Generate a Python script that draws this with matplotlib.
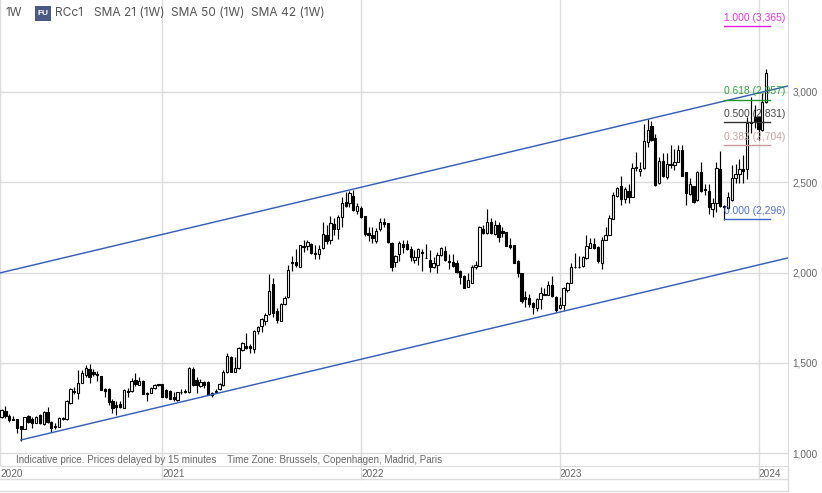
import matplotlib
matplotlib.use("Agg")
import matplotlib.pyplot as plt
import matplotlib.dates as mdates
from matplotlib.lines import Line2D
from matplotlib.patches import Rectangle
import pandas as pd

plt.rcParams['font.family'] = ['Liberation Sans', 'DejaVu Sans']

first_week = "2020-03-16"
opens = [1202,1234,1206,1188,1191,1149,1136,1206,1191,1169,1212,1162,1228,1173,1151,1147,1191,1188,1276,1346,
 1335,1391,1435,1466,1448,1439,1428,1356,1356,1291,1265,1271,1252,1345,1346,1405,1380,1402,1335,1335,
 1359,1381,1381,1350,1345,1309,1295,1337,1339,1337,1465,1405,1374,1394,1394,1322,1341,1356,1378,1448,
 1535,1452,1470,1572,1595,1594,1575,1678,1704,1734,1769,1935,1787,1734,1824,1863,2055,2057,2033,2144,
 2149,2158,2105,2105,2136,2206,2180,2269,2243,2310,2389,2387,2424,2343,2358,2313,2217,2206,2175,2239,
 2278,2274,2164,2057,2101,2160,2156,2130,2070,2084,2114,2082,2068,2029,2042,2099,2118,2060,2060,2051,
 2008,1983,1922,1944,2029,2038,2239,2217,2278,2211,2265,2228,2223,2150,2150,2066,1995,1862,1857,1829,
 1802,1851,1878,1875,1931,1866,1805,1822,1905,1942,2029,2029,2038,2079,2138,2156,2143,2051,2182,2210,
 2295,2426,2477,2405,2450,2420,2577,2562,2581,2721,2811,2743,2498,2618,2531,2597,2597,2614,2678,2555,
 2435,2479,2402,2555,2461,2451,2354,2387,2573,2365,2355,2401,2521,2545,2571,2571,2832,2859,2859,2789,2946]
highs = [1245,1261,1217,1206,1191,1149,1202,1210,1199,1204,1215,1236,1254,1177,1165,1202,1199,1295,1363,1369,
 1461,1461,1489,1494,1465,1457,1430,1363,1359,1302,1287,1291,1357,1359,1415,1442,1424,1404,1341,1365,
 1384,1385,1383,1354,1348,1341,1341,1354,1354,1479,1476,1420,1409,1398,1398,1341,1357,1391,1461,1553,
 1538,1531,1590,1618,1663,1605,1683,1706,1747,1774,1992,1972,1802,1830,1872,2042,2092,2130,2155,2180,
 2180,2166,2153,2153,2282,2263,2313,2300,2319,2417,2448,2454,2457,2383,2369,2313,2250,2250,2245,2300,
 2300,2274,2171,2097,2177,2180,2180,2147,2125,2134,2129,2158,2125,2084,2116,2143,2149,2101,2101,2069,
 2014,1986,1995,2042,2066,2258,2263,2352,2304,2291,2282,2254,2226,2189,2152,2069,1999,1898,1881,1839,
 1857,1922,1912,1955,1981,1870,1866,1922,1949,2051,2106,2091,2091,2206,2189,2189,2147,2195,2250,2318,
 2448,2472,2534,2472,2490,2608,2669,2614,2822,2850,2839,2767,2642,2660,2664,2706,2682,2706,2706,2558,
 2522,2479,2560,2614,2490,2490,2411,2614,2673,2374,2447,2595,2601,2627,2651,2863,2974,2927,2863,2992,3125]
lows = [1197,1193,1175,1184,1114,1070,1136,1169,1140,1165,1162,1158,1169,1117,1136,1143,1184,1184,1273,1328,
 1302,1387,1424,1391,1428,1398,1348,1309,1265,1225,1214,1249,1249,1309,1341,1372,1376,1326,1291,1332,
 1357,1373,1311,1304,1298,1291,1291,1328,1332,1335,1372,1332,1369,1359,1320,1313,1332,1350,1372,1446,
 1450,1448,1465,1568,1577,1557,1554,1658,1673,1710,1763,1756,1723,1734,1820,1861,2011,2029,2029,2116,
 2125,2103,2075,2075,2129,2158,2158,2208,2184,2250,2365,2365,2343,2324,2300,2202,2177,2166,2162,2232,
 2254,2166,2011,2033,2066,2110,2125,2066,2051,2042,2011,2079,2005,2023,1998,2092,2066,2018,2029,1995,
 1936,1916,1922,1944,2019,2036,2213,2213,2213,2208,2171,2195,2147,2130,2052,1977,1829,1807,1811,1768,
 1789,1796,1875,1875,1866,1783,1796,1792,1894,1940,2025,2023,2029,2073,2134,2128,2055,2021,2180,2206,
 2295,2416,2374,2387,2387,2420,2560,2534,2571,2697,2730,2479,2490,2531,2520,2577,2568,2610,2536,2374,
 2429,2383,2398,2448,2429,2324,2309,2337,2364,2291,2350,2398,2497,2497,2497,2516,2774,2798,2734,2785,2940]
closes = [1239,1206,1184,1186,1141,1136,1199,1175,1169,1202,1165,1228,1175,1138,1143,1193,1188,1289,1354,1341,
 1387,1442,1470,1424,1437,1431,1350,1346,1284,1252,1258,1258,1350,1337,1402,1381,1402,1328,1326,1359,
 1378,1376,1313,1309,1300,1298,1337,1339,1341,1472,1376,1378,1396,1378,1322,1335,1346,1381,1452,1538,
 1452,1474,1581,1609,1584,1581,1674,1700,1741,1763,1898,1778,1737,1824,1857,2012,2059,2042,2151,2147,
 2167,2108,2107,2129,2212,2177,2273,2243,2306,2383,2370,2439,2346,2369,2310,2215,2210,2193,2230,2282,
 2267,2171,2033,2090,2166,2143,2130,2086,2084,2129,2106,2079,2031,2051,2095,2136,2070,2058,2036,2001,
 1977,1916,1957,2029,2040,2250,2217,2278,2221,2261,2198,2221,2149,2143,2055,1995,1842,1855,1826,1807,
 1851,1885,1881,1931,1870,1792,1820,1914,1942,2031,2031,2031,2086,2147,2162,2136,2064,2180,2206,2300,
 2427,2466,2405,2462,2420,2577,2582,2575,2726,2787,2734,2485,2618,2534,2599,2595,2612,2678,2536,2438,
 2490,2392,2557,2451,2459,2361,2383,2577,2370,2362,2416,2521,2545,2571,2565,2830,2826,2841,2796,2946,3103]

year_ticks = ["2021-01-04", "2022-01-03", "2023-01-02", "2024-01-01"]
year_labels = ["2021", "2022", "2023", "2024"]
price_ticks = [1000, 1500, 2000, 2500, 3000]

upper_channel_dates = ["2020-03-13", "2024-02-24"]
upper_channel_prices = [1998, 3033]
lower_channel_dates = ["2020-04-20", "2024-02-24"]
lower_channel_prices = [1073, 2081]

fib_start = "2023-10-30"
fib_end = "2024-01-22"
fib_ratios = ["1.000", "0.618", "0.500", "0.382", "0.000"]
fib_prices = [3365, 2957, 2831, 2704, 2296]
fib_colors = ["#e020d8", "#1f9a2a", "#333333", "#c49a9a", "#3f63c4"]

header_items = ["1W", "RCc1", "SMA 21 (1W)", "SMA 50 (1W)", "SMA 42 (1W)"]
header_x = [5, 55, 94, 171, 251]

W, H = 822, 493
fig = plt.figure(figsize=(W/100, H/100), dpi=100)
ax_right, ax_bottom = 788, 466
ax = fig.add_axes([0, 1-ax_bottom/H, ax_right/W, ax_bottom/H])

dates = pd.date_range(first_week, periods=len(opens), freq="7D")
xn = mdates.date2num(dates)
x0 = mdates.date2num(pd.Timestamp("2020-03-13"))
x1 = mdates.date2num(pd.Timestamp("2024-02-24"))
ax.set_xlim(x0, x1)
ax.set_ylim(929, 3509)

grid = "#dcdcdc"
ax.set_axisbelow(True)
ax.grid(True, color=grid, lw=1)
for s in ("top", "left"):
    ax.spines[s].set_visible(False)
ax.spines["right"].set_color(grid)
ax.spines["bottom"].set_color(grid)

ax.yaxis.tick_right()
ax.set_yticks(price_ticks)
ax.set_yticklabels([f"{p:,}" for p in price_ticks], fontsize=7.2, color="#666666")
ax.tick_params(axis="y", length=0, pad=3)
yt = [mdates.date2num(pd.Timestamp(d)) for d in year_ticks]
ax.set_xticks([x0] + yt)
ax.set_xticklabels(["2020"] + year_labels, fontsize=7.2, color="#666666", ha="left")
ax.tick_params(axis="x", length=0, pad=2.5)

# wicks and bodies
ax.vlines(xn, lows, highs, color="black", lw=0.85, zorder=3)
bw = 4.2
for x, o, c in zip(xn, opens, closes):
    up = c >= o
    bottom, top = min(o, c), max(o, c)
    ax.add_patch(Rectangle((x-bw/2, bottom), bw, max(top-bottom, 4),
                           facecolor="white" if up else "black", edgecolor="black",
                           lw=0.8, zorder=4))

# channels
ax.plot(pd.to_datetime(upper_channel_dates), upper_channel_prices, color="#3560b8", lw=1.05, zorder=5)
ax.plot(pd.to_datetime(lower_channel_dates), lower_channel_prices, color="#3560b8", lw=1.05, zorder=5)

# fib levels
fs = pd.Timestamp(fib_start); fe = pd.Timestamp(fib_end)
for r, p, col in zip(fib_ratios, fib_prices, fib_colors):
    ax.plot([fs, fe], [p, p], color=col, lw=1, zorder=5)
    ax.annotate(f"{r} ({p:,})", (fs, p), xytext=(0, 2.5), textcoords="offset points",
                fontsize=7.4, color=col, ha="left", va="bottom", zorder=6, alpha=0.9)

# year gridlines continue under the axis, and the frame rows below it
for d in yt:
    px = (d-x0)/(x1-x0)*ax_right
    fig.add_artist(Line2D([px/W, px/W], [1-466/H, 1-479/H], color=grid, lw=1))
for row in (479, 491):
    fig.add_artist(Line2D([0, ax_right/W], [1-row/H, 1-row/H], color=grid, lw=1))
fig.add_artist(Line2D([ax_right/W, ax_right/W], [1-466/H, 1-491/H], color=grid, lw=1))

# header
for t, x in zip(header_items, header_x):
    fig.text(x/W, 1-13/H, t, fontsize=8.6, color="#555555", va="center", ha="left", family=["Inter", "DejaVu Sans"])
fig.add_artist(Rectangle((35/W, 1-20.5/H), 16/W, 14.5/H, transform=fig.transFigure, facecolor="#4a5a85", edgecolor="none"))
fig.text(43/W, 1-13.3/H, "FU", fontsize=6, color="white", fontweight="bold", ha="center", va="center")

fig.text(16/W, 1-460/H, "Indicative price. Prices delayed by 15 minutes    Time Zone: Brussels, Copenhagen, Madrid, Paris",
         fontsize=7.15, color="#666666", va="center", ha="left")

fig.savefig("out.png", dpi=100)
